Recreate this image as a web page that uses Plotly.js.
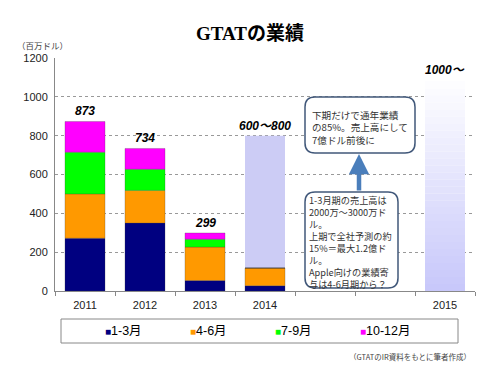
<!DOCTYPE html>
<html><head><meta charset="utf-8">
<script src="https://cdn.plot.ly/plotly-3.0.1.min.js"></script>
<style>html,body{margin:0;padding:0;background:#fff}#chart{width:500px;height:375px}</style>
</head><body><div id="chart"></div>
<script>
// ---- data ----
const categories = ['2011','2012','2013','2014','gap1','gap2','2015'];
const tickLabels = ['2011','2012','2013','2014','','','2015'];
const quarterYears = ['2011','2012','2013','2014'];
const quarterNames = ['1-3月','4-6月','7-9月','10-12月'];
const q1 = [272, 350, 54, 27];
const q2 = [228, 168, 172, 91];
const q3 = [215, 109, 41, 0];
const q4 = [158, 107, 32, 0];
const forecastYear2014 = '2014';
const forecast2014 = 800;
const forecastYear2015 = '2015';
const forecast2015 = 1080;
const totalLabels = ['873','734','299','600～800'];
const totalLabelValues = [873, 734, 299, 800];
const label2015 = '1000～';
const note1Lines = ['下期だけで通年業績','の85%。売上高にして','7億ドル前後に'];
const note2Lines = ['1-3月期の売上高は','2000万～3000万ド','ル。','上期で全社予測の約','15%＝最大1.2億ド','ル。','Apple向けの業績寄','与は4-6月期から？'];

// ---- styles ----
const qColors = ['#000080','#ff9900','#00ff00','#ff00ff'];
const BW = 0.667;
const FONT = 'Liberation Sans, Arial, Noto Sans CJK JP, sans-serif';
const JFONT = 'Noto Sans CJK JP, sans-serif';

const traces = [];
traces.push({type:'bar', x:[forecastYear2014], y:[forecast2014], base:[0], width:BW,
  marker:{color:'#ccccf5', line:{width:0}}, showlegend:false, hoverinfo:'skip'});
// 2015 gradient bar (one value drawn as thin slices for the fade)
const N = 30;
const gx=[], gy=[], gb=[], gc=[];
for (let i=0;i<N;i++){
  const t=i/(N-1);
  const r=Math.round(200+(253-200)*t), g=Math.round(200+(253-200)*t), b=Math.round(250+(255-250)*t);
  gx.push(forecastYear2015); gy.push(forecast2015/N); gb.push(forecast2015*i/N); gc.push(`rgb(${r},${g},${b})`);
}
traces.push({type:'bar', x:gx, y:gy, base:gb, width:BW, marker:{color:gc, line:{width:0}},
  showlegend:false, hoverinfo:'skip'});
const qs=[q1,q2,q3,q4];
const cum=quarterYears.map(()=>0);
qs.forEach((arr,k)=>{
  const base=cum.slice();
  arr.forEach((v,i)=>{cum[i]+=v;});
  traces.push({type:'bar', name:quarterNames[k], x:quarterYears, y:arr, base:base, width:BW,
    marker:{color:qColors[k], line:{width:0.5, color:'rgba(60,60,60,0.5)'}}, showlegend:false});
});

const L=55, R=475, T=58, B=291;
const px = X => (X-L)/(R-L);
const py = Y => (B-Y)/(B-T);
function rrect(x0,y0,x1,y1,r){
  const rx=r/(R-L), ry=r/(B-T);
  const a=px(x0), b=px(x1), c=py(y1), d=py(y0);
  return `M${a+rx},${c} L${b-rx},${c} Q${b},${c} ${b},${c+ry} L${b},${d-ry} Q${b},${d} ${b-rx},${d} L${a+rx},${d} Q${a},${d} ${a},${d-ry} L${a},${c+ry} Q${a},${c} ${a+rx},${c} Z`;
}

const annotations = [];
totalLabels.forEach((t,i)=>{
  annotations.push({x:categories.indexOf(quarterYears[i]), y:totalLabelValues[i], xref:'x', yref:'y', yanchor:'bottom', yshift:1,
    text:`<b><i>${t}</i></b>`, showarrow:false, font:{family:FONT, size:12, color:'#000'}});
});
annotations.push({x:categories.indexOf(forecastYear2015), y:forecast2015, xref:'x', yref:'y', yanchor:'bottom', yshift:2,
  text:`<b><i>${label2015}</i></b>`, showarrow:false, font:{family:FONT, size:12, color:'#000'}});
annotations.push({x:px(359), y:py(154), xref:'paper', yref:'paper', ax:0, ay:38, text:'',
  showarrow:true, arrowhead:2, arrowsize:0.9, arrowwidth:4.5, arrowcolor:'#4a7ebb'});
annotations.push({x:px(310), y:py(106), xref:'paper', yref:'paper', xanchor:'left', yanchor:'top', align:'left',
  text:note1Lines.join('<br>'), showarrow:false, font:{family:JFONT, size:9.6, color:'#333'}});
annotations.push({x:px(307), y:py(190.5), xref:'paper', yref:'paper', xanchor:'left', yanchor:'top', align:'left',
  text:note2Lines.join('<br>'), showarrow:false, font:{family:JFONT, size:9.2, color:'#333'}});
annotations.push({x:px(42), y:py(45), xref:'paper', yref:'paper', xanchor:'center', yanchor:'middle',
  text:'（百万ドル）', showarrow:false, font:{family:JFONT, size:8.5, color:'#444'}});
annotations.push({x:px(473), y:py(356), xref:'paper', yref:'paper', xanchor:'right', yanchor:'middle',
  text:'（GTATのIR資料をもとに筆者作成）', showarrow:false, font:{family:JFONT, size:7.5, color:'#444'}});
// legend entries
quarterNames.forEach((n,k)=>annotations.push({x:px(103+85*k), y:py(331), xref:'paper', yref:'paper', xanchor:'left', yanchor:'middle',
  text:`<span style="color:${qColors[k]};font-size:10px">■</span>${n}`, showarrow:false,
  font:{family:FONT, size:12.5, color:'#000'}}));

const shapes = [
  {type:'path', xref:'paper', yref:'paper', path:rrect(305,97,415,153,10), line:{color:'#41587a', width:1.5}, fillcolor:'#fff', layer:'above'},
  {type:'path', xref:'paper', yref:'paper', path:rrect(305,192,398,288,10), line:{color:'#41587a', width:1.5}, fillcolor:'#fff', layer:'above'},
  {type:'rect', xref:'paper', yref:'paper', x0:px(61), x1:px(458), y0:py(343), y1:py(319), line:{color:'#888', width:1}, fillcolor:'rgba(0,0,0,0)'}
];

const layout = {
  width:500, height:375, margin:{l:L, r:500-R, t:T, b:375-B},
  paper_bgcolor:'#fff', plot_bgcolor:'#fff',
  barmode:'overlay', showlegend:false,
  title:{text:'<b>GTATの業績</b>', x:0.5, xanchor:'center', y:1-33/375, yanchor:'middle',
    font:{family:'Liberation Serif, Times New Roman, Noto Sans CJK JP, serif', size:19, color:'#000'}},
  xaxis:{type:'category', categoryorder:'array', categoryarray:categories, tickmode:'array',
    tickvals:categories, ticktext:tickLabels, tickson:'boundaries', ticks:'outside', ticklen:4,
    tickcolor:'#888', showline:true, linecolor:'#888', linewidth:1, showgrid:false,
    tickfont:{family:FONT, size:11, color:'#222'}, ticklabelstandoff:4, range:[-0.5,6.5]},
  yaxis:{range:[0,1200], dtick:200, tick0:0, showline:true, linecolor:'#888', linewidth:1,
    showgrid:true, gridcolor:'#999', griddash:'dot', gridwidth:1, zeroline:false, ticks:'',
    tickfont:{family:FONT, size:11, color:'#222'}, ticklabelstandoff:4},
  annotations:annotations, shapes:shapes
};
Plotly.newPlot('chart', traces, layout, {displayModeBar:false, staticPlot:true});
</script></body></html>
